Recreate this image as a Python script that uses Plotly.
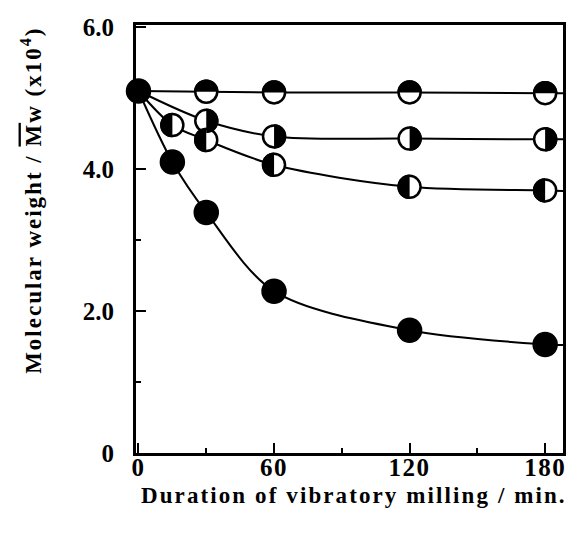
import math
import plotly.graph_objects as go

# ---- data ----
t_all = [0, 15, 30, 60, 120, 180]
mw_filled = [5.10, 4.10, 3.39, 2.28, 1.73, 1.53]

t_top = [0, 30, 60, 120, 180]
mw_top = [5.10, 5.09, 5.08, 5.08, 5.07]          # top-half black

t_right = [0, 30, 60, 120, 180]
mw_right = [5.10, 4.68, 4.46, 4.43, 4.42]        # right-half black

t_left = [0, 15, 30, 60, 120, 180]
mw_left = [5.10, 4.62, 4.41, 4.06, 3.75, 3.70]   # left-half black

# curve values where the fitted lines meet the right frame (x = 188)
edge_t = 188
edge_filled, edge_top, edge_right, edge_left = 1.52, 5.07, 4.42, 3.69

x_ticks = [0, 60, 120, 180]
x_tick_text = ["0", "60", "120", "180"]
y_ticks = [0, 2, 4, 6]
y_tick_text = ["0", "2.0", "4.0", "6.0"]

# ---- figure ----
FONT = "Liberation Serif"
fig = go.Figure()

series = [
    (t_all, mw_filled, edge_filled),
    (t_top, mw_top, edge_top),
    (t_right, mw_right, edge_right),
    (t_left, mw_left, edge_left),
]
for tx, ty, ey in series:
    fig.add_trace(go.Scatter(
        x=tx + [edge_t], y=ty + [ey], mode="lines",
        line=dict(color="black", width=2, shape="spline", smoothing=0.9),
        hoverinfo="skip", showlegend=False, cliponaxis=True))

MS = 22
LW = 2.5
# open (white) markers for the half-filled series
for tx, ty in [(t_top, mw_top), (t_right, mw_right), (t_left, mw_left)]:
    fig.add_trace(go.Scatter(
        x=tx[1:], y=ty[1:], mode="markers",
        marker=dict(size=MS, color="white", line=dict(color="black", width=LW)),
        showlegend=False, cliponaxis=False))

# filled series
fig.add_trace(go.Scatter(
    x=t_all, y=mw_filled, mode="markers",
    marker=dict(size=MS + 2, color="black", line=dict(color="black", width=1.5)),
    showlegend=False, cliponaxis=False))

# half-disk shapes (pixel-sized, anchored at data points)
R = (MS + LW) / 2
def half_path(a0, a1, n=24):
    pts = []
    for i in range(n + 1):
        a = math.radians(a0 + (a1 - a0) * i / n)
        pts.append(f"{R*math.cos(a):.2f},{R*math.sin(a):.2f}")
    return "M " + " L ".join(pts) + " Z"

paths = {
    "top": half_path(0, 180),
    "right": half_path(-90, 90),
    "left": half_path(90, 270),
}
for key, tx, ty in [("top", t_top, mw_top), ("right", t_right, mw_right),
                    ("left", t_left, mw_left)]:
    for xv, yv in zip(tx[1:], ty[1:]):
        fig.add_shape(type="path", path=paths[key], xref="x", yref="y",
                      xsizemode="pixel", ysizemode="pixel",
                      xanchor=xv, yanchor=yv,
                      fillcolor="black", line=dict(width=0), layer="above")

def spaced(s, px):
    return f"<span style='letter-spacing:{px}px'>{s}</span>"

fig.update_xaxes(
    range=[-1.1, 187.9], tickvals=x_ticks,
    ticktext=[spaced(s, 1.5) for s in x_tick_text],
    ticks="inside", ticklen=10, tickwidth=2, tickcolor="black",
    minor=dict(tickvals=[30, 90, 150], ticks="inside", ticklen=5,
               tickwidth=2, tickcolor="black"),
    showline=True, linewidth=3, linecolor="black", mirror=True,
    showgrid=False, zeroline=False,
    tickfont=dict(family=FONT, size=25, color="black", weight="bold"),
    ticklabelstandoff=-10)
fig.update_yaxes(
    range=[0, 6.03], tickvals=y_ticks, ticktext=y_tick_text,
    ticks="inside", ticklen=10, tickwidth=2, tickcolor="black",
    minor=dict(tickvals=[1, 3, 5], ticks="inside", ticklen=5,
               tickwidth=2, tickcolor="black"),
    showline=True, linewidth=3, linecolor="black", mirror=True,
    showgrid=False, zeroline=False,
    tickfont=dict(family=FONT, size=25, color="black", weight="bold"),
    ticklabelstandoff=14)

titlefont = dict(family=FONT, size=23, color="black", weight="bold")
fig.add_annotation(
    text=spaced("Duration of vibratory milling / min.", 2.1),
    xref="paper", yref="paper", x=0.51, y=-0.1,
    xanchor="center", yanchor="middle", showarrow=False, font=titlefont)
fig.add_annotation(
    text=spaced("Molecular weight / <span style='text-decoration:overline'>M</span>w (x10<sup>4</sup>)", 2),
    xref="paper", yref="paper", x=-0.245, y=0.59, textangle=-90,
    xanchor="center", yanchor="middle", showarrow=False, font=titlefont)

fig.update_layout(
    width=571, height=533,
    margin=dict(l=136, r=5, t=25, b=80),
    paper_bgcolor="white", plot_bgcolor="white",
    showlegend=False)

fig.write_html("out.html")
